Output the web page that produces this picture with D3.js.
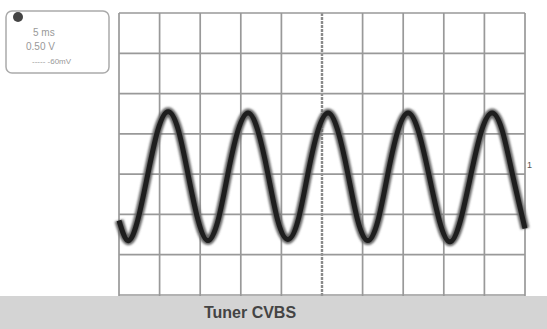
<!DOCTYPE html>
<html>
<head>
<meta charset="utf-8">
<script src="https://cdn.jsdelivr.net/npm/d3@7"></script>
<style>
  body { margin: 0; background: #fff; }
  svg { display: block; }
</style>
</head>
<body>
<svg id="chart" width="547" height="329"></svg>
<script>
// time in divisions, trace level in divisions
const timeDiv = [0, 0.22, 0.46, 0.71, 0.96, 1.21, 1.46, 1.70, 1.95, 2.19, 2.44, 2.68, 2.93, 3.18, 3.42,
  3.67, 3.91, 4.16, 4.41, 4.65, 4.90, 5.15, 5.39, 5.64, 5.88, 6.13, 6.38, 6.62, 6.87, 7.12, 7.37,
  7.63, 7.89, 8.15, 8.41, 8.67, 8.93, 9.19, 9.44, 9.69, 10.0];
const levelDiv = [-1.15, -1.65, -1.15, 0, 1.10, 1.55, 1.10, 0, -1.15, -1.65, -1.15, 0, 1.08, 1.52, 1.08,
  0, -1.15, -1.62, -1.15, 0, 1.08, 1.52, 1.08, 0, -1.15, -1.65, -1.15, 0, 1.08, 1.52, 1.08,
  0, -1.15, -1.68, -1.15, 0, 1.08, 1.52, 1.08, 0, -1.35];
const xGrid = [0, 1, 2, 3, 4, 5, 6, 7, 8, 9, 10];
const yGrid = [-3, -2, -1, 0, 1, 2, 3, 4];
const infoLines = ['5 ms', '0.50 V', '----- -60mV'];
const title = 'Tuner CVBS';

const svg = d3.select('#chart');
const W = 547, H = 329;

const x = d3.scaleLinear().domain([0, 10]).range([119, 525]);
const y = d3.scaleLinear().domain([-3, 4]).range([295, 13]);

// grid
svg.selectAll('.vline')
   .data(xGrid)
   .enter()
   .append('line')
   .attr('x1', d => x(d))
   .attr('x2', d => x(d))
   .attr('y1', y(4))
   .attr('y2', y(-3) + 2)
   .attr('stroke', d => d === 5 ? '#8a8a8a' : '#999')
   .attr('stroke-width', d => d === 5 ? 2.4 : 1.7)
   .attr('stroke-dasharray', d => d === 5 ? '3,1' : null);

svg.selectAll('.hline')
   .data(yGrid)
   .enter()
   .append('line')
   .attr('x1', x(0))
   .attr('x2', x(10))
   .attr('y1', d => y(d))
   .attr('y2', d => y(d))
   .attr('stroke', '#999')
   .attr('stroke-width', 1.7);

// trace
const pts = timeDiv.map((t, i) => [t, levelDiv[i]]);
const line = d3.line()
  .x(d => x(d[0]))
  .y(d => y(d[1]))
  .curve(d3.curveNatural);

svg.append('defs').append('filter')
   .attr('id', 'soft')
   .append('feGaussianBlur')
   .attr('stdDeviation', 1.2);

svg.append('path')
   .attr('d', line(pts))
   .attr('fill', 'none')
   .attr('stroke', '#666')
   .attr('stroke-width', 9)
   .attr('filter', 'url(#soft)');
svg.append('path')
   .attr('d', line(pts))
   .attr('fill', 'none')
   .attr('stroke', '#1e1e1e')
   .attr('stroke-width', 5);

// channel marker
svg.append('text')
   .attr('x', 527)
   .attr('y', 168)
   .attr('font-family', 'Liberation Sans, Arial, sans-serif')
   .attr('font-size', 9)
   .attr('fill', '#555')
   .text('1');

// info box
svg.append('rect')
   .attr('x', 6).attr('y', 11)
   .attr('width', 103).attr('height', 62)
   .attr('rx', 6)
   .attr('fill', 'none')
   .attr('stroke', '#aaa')
   .attr('stroke-width', 1.5);
svg.append('circle')
   .attr('cx', 18).attr('cy', 17).attr('r', 5)
   .attr('fill', '#444');
svg.selectAll('.info')
   .data(infoLines)
   .enter()
   .append('text')
   .attr('x', (d, i) => [33, 26, 32][i])
   .attr('y', (d, i) => [36, 50, 64][i])
   .attr('font-family', 'Liberation Sans, Arial, sans-serif')
   .attr('font-size', (d, i) => i === 2 ? 8 : 10)
   .attr('fill', '#999')
   .text(d => d);

// bottom band
svg.append('rect')
   .attr('x', 0).attr('y', 296)
   .attr('width', W).attr('height', H - 296)
   .attr('fill', '#d4d4d4');
svg.append('text')
   .attr('x', 250)
   .attr('y', 318)
   .attr('text-anchor', 'middle')
   .attr('font-family', 'Liberation Sans, Arial, sans-serif')
   .attr('font-weight', 'bold')
   .attr('font-size', 16)
   .attr('fill', '#444')
   .text(title);
</script>
</body>
</html>
